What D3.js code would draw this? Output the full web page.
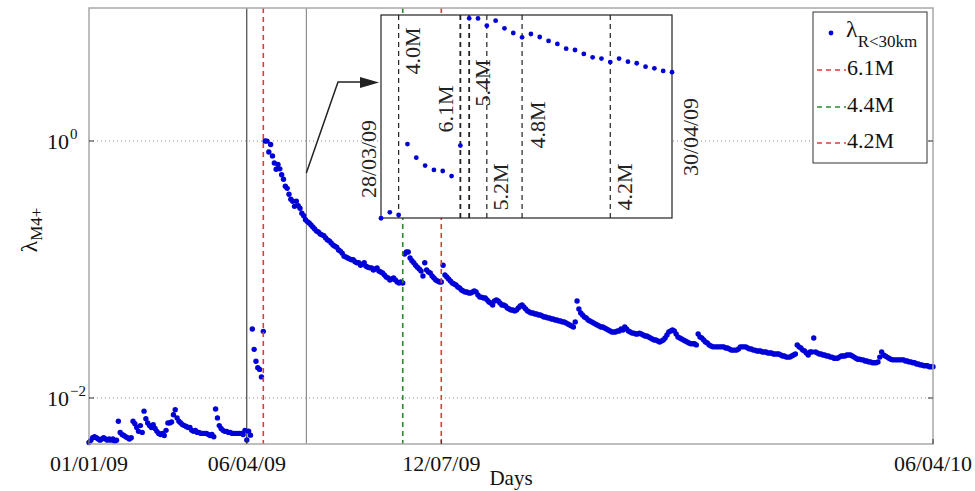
<!DOCTYPE html>
<html>
<head>
<meta charset="utf-8">
<script src="https://cdn.jsdelivr.net/npm/d3@7"></script>
<style>
  body { margin: 0; background: #fff; }
  svg { display: block; font-family: "Liberation Serif", "DejaVu Serif", serif; }
</style>
</head>
<body>
<div id="chart"></div>
<script>
// daily rate lambda, day 0 = 01/01/09
const lambdaJanMar = [
  0.0045,0.0047,0.0049,0.0050,0.0049,0.0048,0.0047,0.0048,0.0049,0.0048,0.0047,0.0048,0.0047,0.0048,0.0046,0.0047,
  0.0066,0.0054,0.0052,0.0051,0.0050,0.0049,0.0048,0.0049,0.0066,0.0063,0.0059,0.0055,0.0061,0.0054,0.0079,0.0069,
  0.0064,0.0061,0.0059,0.0062,0.0058,0.0055,0.0053,0.0052,0.0053,0.0051,0.0056,0.0064,0.0064,0.0065,0.0074,0.0081,
  0.0070,0.0066,0.0064,0.0062,0.0061,0.0060,0.0059,0.0059,0.0056,0.0055,0.0056,0.0054,0.0054,0.0053,0.0053,0.0053,
  0.0053,0.0052,0.0051,0.0052,0.0050,0.0082,0.0070,0.0061,0.0058,0.0056,0.0055,0.0055,0.0054,0.0054,0.0053,0.0053,
  0.0053,0.0053,0.0053,0.0053,0.0052,0.0056
];
// 28/03/09 .. 30/04/09 (also shown in the inset)
const lambdaMarApr = [
  0.00471,0.00552,0.00514,0.0344,0.0239,0.0193,0.0172,0.0167,0.0146,0.0330,
  1.00,0.998,0.822,0.940,0.766,0.675,0.602,0.657,0.607,0.546,0.504,0.444,
  0.428,0.385,0.352,0.340,0.310,0.340,0.313,0.300,0.274,0.262,0.244,0.236
];
const lambdaMayJul = [
  0.230,0.222,0.214,0.207,0.199,0.196,0.189,0.186,0.183,0.176,0.170,0.167,0.161,0.155,0.152,0.149,
  0.142,0.139,0.134,0.127,0.125,0.123,0.121,0.119,0.119,0.115,0.113,0.113,0.108,0.110,0.113,0.106,
  0.104,0.103,0.103,0.0991,0.101,0.103,0.0973,0.0956,0.0939,0.0906,0.0874,0.0858,0.0828,0.0843,0.0858,0.0828,
  0.0799,0.0785,0.0799,0.0785,
  0.132,0.137,0.137,0.123,0.117,0.113,0.108,0.104,0.101,0.0973,0.0890,0.113,0.0991,0.0956,0.0939,0.0890,0.0858,0.0828,0.0813,0.0799,
  0.0799,0.108,0.0906,0.0874,0.0843,0.0813,0.0785,0.0771,0.0757,0.0730,0.0717,0.0693,0.0680,0.0668,0.0668,0.0656,0.0656,0.0668,0.0680,0.0668
];
const lambdaLate = [
  0.0633,0.0610,0.0610,0.0600,0.0600,0.0579,0.0559,0.0549,0.0529,0.0569,0.0579,0.0569,0.0549,0.0529,0.0529,0.0520,0.0502,0.0493,0.0484,0.0484,
  0.0476,0.0484,0.0502,0.0520,0.0529,0.0511,0.0493,0.0476,0.0467,0.0459,0.0459,0.0451,0.0451,0.0443,0.0443,0.0435,0.0427,0.0427,0.0420,0.0420,
  0.0412,0.0412,0.0405,0.0405,0.0398,0.0398,0.0391,0.0391,0.0384,0.0377,0.0370,0.0364,0.0357,0.0391,0.0569,0.0493,0.0459,0.0443,0.0427,0.0420,
  0.0405,0.0398,0.0391,0.0384,0.0377,0.0370,0.0364,0.0357,0.0357,0.0351,0.0344,0.0338,0.0332,0.0326,0.0326,0.0326,0.0332,0.0332,0.0344,0.0338,
  0.0357,0.0344,0.0332,0.0326,0.0320,0.0320,0.0315,0.0315,0.0320,0.0315,0.0309,0.0304,0.0304,0.0298,0.0293,0.0288,0.0283,0.0283,0.0278,0.0273,
  0.0278,0.0283,0.0293,0.0309,0.0326,0.0332,0.0338,0.0332,0.0315,0.0298,0.0293,0.0288,0.0283,0.0278,0.0273,0.0268,0.0264,0.0264,0.0264,0.0259,
  0.0315,0.0298,0.0293,0.0283,0.0273,0.0268,0.0259,0.0254,0.0250,0.0250,0.0250,0.0250,0.0250,0.0250,0.0250,0.0245,0.0245,0.0241,0.0236,0.0236,
  0.0236,0.0236,0.0241,0.0250,0.0250,0.0250,0.0250,0.0245,0.0241,0.0241,0.0236,0.0236,0.0232,0.0232,0.0232,0.0228,0.0228,0.0228,0.0224,0.0224,
  0.0224,0.0220,0.0220,0.0220,0.0220,0.0216,0.0212,0.0212,0.0208,0.0208,0.0208,0.0212,0.0216,0.0220,0.0259,0.0250,0.0245,0.0236,0.0232,0.0224,
  0.0216,0.0228,0.0228,0.0293,0.0228,0.0224,0.0220,0.0220,0.0216,0.0216,0.0212,0.0212,0.0208,0.0208,0.0204,0.0204,0.0204,0.0208,0.0212,0.0212,
  0.0212,0.0216,0.0216,0.0216,0.0212,0.0208,0.0204,0.0200,0.0200,0.0198,0.0198,0.0194,0.0194,0.0191,0.0191,0.0188,0.0188,0.0188,0.0191,0.0208,
  0.0228,0.0216,0.0212,0.0208,0.0204,0.0200,0.0198,0.0198,0.0198,0.0198,0.0198,0.0198,0.0198,0.0194,0.0194,0.0191,0.0191,0.0188,0.0188,0.0184,
  0.0184,0.0181,0.0181,0.0178,0.0178,0.0178,0.0175,0.0175,0.0175
];

const xTickDays = [0, 86, 192, 460];
const xTickLabels = ['01/01/09', '06/04/09', '12/07/09', '06/04/10'];
const yTickValues = [1e-2, 1e0];
const yTickExponents = ['\u22122', '0'];

// main shocks marked on the full chart
const eventDays = [95, 171, 192];
const eventLabels = ['6.1M', '4.4M', '4.2M'];

// inset window and the events marked in it
const insetDays = [86, 119];
const insetTickLabels = ['28/03/09', '30/04/09'];
const insetEventDays = [88, 95, 96, 98, 102, 112];
const insetEventLabels = ['4.0M', '6.1M', '5.4M', '5.2M', '4.8M', '4.2M'];

const lambda = lambdaJanMar.concat(lambdaMarApr, lambdaMayJul, lambdaLate);
const points = lambda.map((v, i) => ({ day: i, v: v }));

// styles
const blue = '#0000d8';
const eventColors = ['#e03a3a', '#2a8a2a', '#e03a3a'];
const dotR = 2.7;

const width = 975, height = 491;
const margin = { top: 8, right: 42, bottom: 47, left: 89 };

const svg = d3.select('#chart').append('svg')
  .attr('width', width)
  .attr('height', height);

const x = d3.scaleLinear().domain([0, 460]).range([margin.left, width - margin.right]);
const y = d3.scaleLog().domain([0.004385, 10.84]).range([height - margin.bottom, margin.top]);
const x0 = x.range()[0], x1 = x.range()[1], yb = y.range()[0], yt = y.range()[1];

// dotted grid
svg.selectAll('.grid').data(yTickValues).enter().append('line')
  .attr('x1', x0).attr('x2', x1)
  .attr('y1', d => y(d)).attr('y2', d => y(d))
  .attr('stroke', '#8a8a8a').attr('stroke-width', 1)
  .attr('stroke-dasharray', '1,3');

// window lines
svg.append('line')
  .attr('x1', x(insetDays[0])).attr('x2', x(insetDays[0]))
  .attr('y1', yt).attr('y2', yb)
  .attr('stroke', '#222').attr('stroke-width', 1);
svg.append('line')
  .attr('x1', x(insetDays[1]) - 1).attr('x2', x(insetDays[1]) - 1)
  .attr('y1', yt).attr('y2', yb)
  .attr('stroke', '#777').attr('stroke-width', 1);

// data points
svg.append('g').selectAll('circle').data(points).enter().append('circle')
  .attr('cx', d => x(d.day))
  .attr('cy', d => y(d.v))
  .attr('r', dotR)
  .attr('fill', blue);

// event lines
svg.selectAll('.event').data(eventDays).enter().append('line')
  .attr('x1', d => x(d)).attr('x2', d => x(d))
  .attr('y1', yt).attr('y2', yb)
  .attr('stroke', (d, i) => eventColors[i])
  .attr('stroke-width', 1.6)
  .attr('stroke-dasharray', '5,4');

// arrow to the inset
const ax = x(insetDays[1]) - 1;
svg.append('path')
  .attr('d', d3.line()([[ax, 173], [338, 82], [362, 82]]))
  .attr('fill', 'none').attr('stroke', '#222').attr('stroke-width', 1.5);
svg.append('path')
  .attr('d', 'M360,77L379,82.5L360,88Z')
  .attr('fill', '#222');

// inset
const inset = { left: 381, right: 672, top: 15, bottom: 218 };
const xi = d3.scaleLinear().domain(insetDays).range([inset.left, inset.right]);
const yi = d3.scaleLog().domain([0.00474, 1.094]).range([inset.bottom, inset.top]);

const gi = svg.append('g');
gi.append('rect')
  .attr('x', inset.left).attr('y', inset.top)
  .attr('width', inset.right - inset.left).attr('height', inset.bottom - inset.top)
  .attr('fill', '#fff').attr('stroke', '#222').attr('stroke-width', 1.2);

gi.selectAll('.ievent').data(insetEventDays).enter().append('line')
  .attr('x1', d => xi(d)).attr('x2', d => xi(d))
  .attr('y1', inset.top).attr('y2', inset.bottom)
  .attr('stroke', '#222')
  .attr('stroke-width', (d, i) => (i === 1 || i === 2) ? 1.8 : 1.2)
  .attr('stroke-dasharray', '5,4');

gi.selectAll('circle')
  .data(points.filter(d => d.day >= insetDays[0] && d.day <= insetDays[1]))
  .enter().append('circle')
  .attr('cx', d => xi(d.day))
  .attr('cy', d => yi(d.v))
  .attr('r', 2.4)
  .attr('fill', blue);

// label placement: offset from its line and vertical centre
const insetLabelDx = [14, -15, 13, 14, 15, 14];
const insetLabelY = [51, 109, 83, 187, 125, 187];
gi.selectAll('.ilabel').data(insetEventLabels).enter().append('text')
  .attr('transform', (d, i) => `translate(${xi(insetEventDays[i]) + insetLabelDx[i]},${insetLabelY[i]}) rotate(-90)`)
  .attr('text-anchor', 'middle')
  .attr('dominant-baseline', 'central')
  .attr('font-size', 22)
  .attr('fill', '#222')
  .text(d => d);

const insetTickPos = [[368, 159], [690, 137]];
gi.selectAll('.itick').data(insetTickLabels).enter().append('text')
  .attr('transform', (d, i) => `translate(${insetTickPos[i][0]},${insetTickPos[i][1]}) rotate(-90)`)
  .attr('text-anchor', 'middle')
  .attr('dominant-baseline', 'central')
  .attr('font-size', 22)
  .attr('fill', '#222')
  .text(d => d);

// legend
const lg = svg.append('g');
lg.append('rect')
  .attr('x', 813).attr('y', 12).attr('width', 114).attr('height', 151)
  .attr('fill', '#fff').attr('stroke', '#333').attr('stroke-width', 1);
lg.append('circle').attr('cx', 831).attr('cy', 33).attr('r', 2.4).attr('fill', blue);
const lt = lg.append('text').attr('x', 846).attr('y', 37).attr('fill', '#111');
lt.append('tspan').attr('font-size', 24).text('\u03bb');
lt.append('tspan').attr('font-size', 17).attr('dy', 10).text('R<30km');

const legendY = [70, 107, 143];
eventLabels.forEach((lab, i) => {
  lg.append('line')
    .attr('x1', 817).attr('x2', 846)
    .attr('y1', legendY[i]).attr('y2', legendY[i])
    .attr('stroke', eventColors[i]).attr('stroke-width', 1.5)
    .attr('stroke-dasharray', '5,4');
  lg.append('text')
    .attr('x', 847).attr('y', legendY[i] + 5)
    .attr('font-size', 22).attr('fill', '#111')
    .text(lab);
});

// axes box
svg.append('rect')
  .attr('x', x0).attr('y', yt).attr('width', x1 - x0).attr('height', yb - yt)
  .attr('fill', 'none').attr('stroke', '#a8a8a8').attr('stroke-width', 1.5);

// ticks
yTickValues.forEach(v => {
  svg.append('line').attr('x1', x0).attr('x2', x0 + 5).attr('y1', y(v)).attr('y2', y(v)).attr('stroke', '#333');
  svg.append('line').attr('x1', x1 - 5).attr('x2', x1).attr('y1', y(v)).attr('y2', y(v)).attr('stroke', '#333');
});
xTickDays.forEach(d => {
  svg.append('line').attr('x1', x(d)).attr('x2', x(d)).attr('y1', yb).attr('y2', yb - 5).attr('stroke', '#333');
});

// tick labels
svg.selectAll('.xlab').data(xTickDays).enter().append('text')
  .attr('x', d => x(d)).attr('y', 471)
  .attr('text-anchor', 'middle')
  .attr('font-size', 22).attr('fill', '#111')
  .text((d, i) => xTickLabels[i]);

yTickValues.forEach((v, i) => {
  const t = svg.append('text').attr('x', 47).attr('y', y(v) + 8).attr('fill', '#111');
  t.append('tspan').attr('font-size', 22).text('10');
  t.append('tspan').attr('font-size', 15).attr('dy', -10).attr('dx', 1).text(yTickExponents[i]);
});

// axis titles
svg.append('text')
  .attr('x', 511).attr('y', 485)
  .attr('text-anchor', 'middle')
  .attr('font-size', 21).attr('fill', '#111')
  .text('Days');

const yl = svg.append('text')
  .attr('transform', 'translate(37,230) rotate(-90)')
  .attr('text-anchor', 'middle')
  .attr('fill', '#111');
yl.append('tspan').attr('font-size', 24).text('\u03bb');
yl.append('tspan').attr('font-size', 17).attr('dy', 5).text('M4+');
</script>
</body>
</html>
